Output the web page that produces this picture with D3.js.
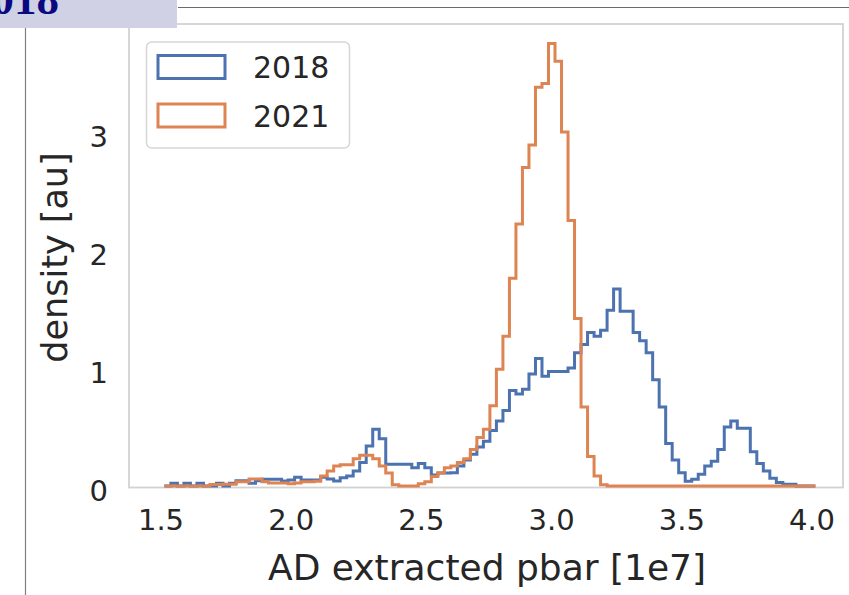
<!DOCTYPE html>
<html>
<head>
<meta charset="utf-8">
<script src="https://cdn.jsdelivr.net/npm/d3@7"></script>
<style>
  body { margin: 0; background: #fff; }
  svg { display: block; }
</style>
</head>
<body>
<script>
// histogram: 100 bins of 0.025 (x in units of 1e7)
var binStart = 1.515, binWidth = 0.025;

var series = ["2018", "2021"];
var colors = ["#4c72b0", "#dd8452"];

var density2018 = [
  0, 0.023, 0, 0.023, 0, 0.023, 0, 0, 0.023, 0,
  0.023, 0.045, 0.045, 0.023, 0.045, 0.057, 0.057, 0.057, 0.042, 0.05,
  0.074, 0.05, 0.05, 0.05, 0.074, 0.06, 0.042, 0.07, 0.085, 0.127,
  0.2, 0.34, 0.48, 0.4, 0.184, 0.184, 0.184, 0.184, 0.155, 0.19,
  0.155, 0.093, 0.11, 0.11, 0.113, 0.17, 0.22, 0.27, 0.33, 0.38,
  0.47, 0.55, 0.64, 0.81, 0.78, 0.82, 0.95, 1.08, 0.93, 0.97,
  0.97, 0.97, 1.0, 1.13, 1.2, 1.3, 1.27, 1.32, 1.49, 1.67,
  1.48, 1.48, 1.3, 1.23, 1.13, 0.9, 0.67, 0.36, 0.22, 0.113,
  0.04, 0.057, 0.1, 0.17, 0.21, 0.31, 0.5, 0.55, 0.49, 0.49,
  0.29, 0.19, 0.127, 0.065, 0.03, 0.014, 0.014, 0, 0, 0
];

var density2021 = [
  0, 0, 0, 0, 0, 0, 0, 0.012, 0.012, 0.015,
  0.015, 0.035, 0.035, 0.06, 0.06, 0.035, 0.025, 0.025, 0.025, 0.02,
  0.025, 0.035, 0.035, 0.04, 0.085, 0.127, 0.17, 0.18, 0.18, 0.23,
  0.26, 0.26, 0.23, 0.17, 0.11, 0.01, 0, 0, 0, 0.02,
  0.037, 0.08, 0.11, 0.155, 0.17, 0.2, 0.23, 0.31, 0.41, 0.48,
  0.68, 0.99, 1.27, 1.76, 2.22, 2.7, 2.89, 3.38, 3.41, 3.75,
  3.6, 3.0, 2.25, 1.42, 0.67, 0.25, 0.085, 0.01, 0, 0,
  0, 0, 0, 0, 0, 0, 0, 0, 0, 0,
  0, 0, 0, 0, 0, 0, 0, 0, 0, 0,
  0, 0, 0, 0, 0, 0, 0, 0, 0, 0
];

var xTicks = [1.5, 2.0, 2.5, 3.0, 3.5, 4.0];
var yTicks = [0, 1, 2, 3];

var width = 849, height = 595;
var frame = {left: 129, right: 843, top: 24, bottom: 487.5};
var font = "DejaVu Sans, sans-serif", ink = "#262626";

var svg = d3.select("body").append("svg")
    .attr("width", width).attr("height", height);

var x = d3.scaleLinear().domain([1.5, 4.0]).range([160.5, 811.5]);
var y = d3.scaleLinear().domain([0, 3]).range([486, 132]);

// frame (light grey spines)
svg.append("rect")
    .attr("x", frame.left).attr("y", frame.top)
    .attr("width", frame.right - frame.left)
    .attr("height", frame.bottom - frame.top)
    .attr("fill", "none")
    .attr("stroke", "#d2d2d2")
    .attr("stroke-width", 1.8);

// step outlines
function stepPoints(vals) {
  var pts = [[binStart, 0]];
  vals.forEach(function(v, i) { pts.push([binStart + i * binWidth, v]); });
  pts.push([binStart + vals.length * binWidth, 0]);
  return pts;
}

var line = d3.line()
    .x(function(d) { return x(d[0]); })
    .y(function(d) { return y(d[1]); })
    .curve(d3.curveStepAfter);

svg.selectAll("path.hist")
  .data([density2018, density2021])
  .enter().append("path")
    .attr("class", "hist")
    .attr("d", function(d) { return line(stepPoints(d)); })
    .attr("fill", "none")
    .attr("stroke", function(d, i) { return colors[i]; })
    .attr("stroke-width", 3)
    .attr("stroke-linejoin", "miter");

// axes
var xAxis = d3.axisBottom(x).tickValues(xTicks).tickSize(0).tickPadding(22)
    .tickFormat(d3.format(".1f"));
var gx = svg.append("g")
    .attr("transform", "translate(0," + frame.bottom + ")")
    .call(xAxis);
gx.select(".domain").remove();
gx.selectAll("text")
    .style("font-size", "29px")
    .style("font-family", font)
    .style("fill", ink);

var yAxis = d3.axisLeft(y).tickValues(yTicks).tickSize(0).tickPadding(21)
    .tickFormat(d3.format("d"));
var gy = svg.append("g")
    .attr("transform", "translate(" + frame.left + ",0)")
    .call(yAxis);
gy.select(".domain").remove();
gy.selectAll("text")
    .attr("dy", "0.5em")
    .style("font-size", "29px")
    .style("font-family", font)
    .style("fill", ink);

// axis labels
svg.append("text")
    .attr("x", 487).attr("y", 580)
    .attr("text-anchor", "middle")
    .style("font-size", "36px")
    .style("font-family", font)
    .style("fill", ink)
    .text("AD extracted pbar [1e7]");

svg.append("text")
    .attr("transform", "translate(66.5,257.5) rotate(-90)")
    .attr("text-anchor", "middle")
    .style("font-size", "35px")
    .style("font-family", font)
    .style("fill", ink)
    .text("density [au]");

// legend
var legend = svg.append("g");
legend.append("rect")
    .attr("x", 146.5).attr("y", 42)
    .attr("width", 203).attr("height", 106)
    .attr("rx", 5)
    .attr("fill", "#fff")
    .attr("stroke", "#d6d6d6")
    .attr("stroke-width", 1.5);

var items = legend.selectAll("g.item")
  .data(series)
  .enter().append("g")
    .attr("class", "item")
    .attr("transform", function(d, i) { return "translate(0," + (i * 48.5) + ")"; });

items.append("rect")
    .attr("x", 158).attr("y", 55.5)
    .attr("width", 67).attr("height", 23)
    .attr("fill", "none")
    .attr("stroke", function(d, i) { return colors[i]; })
    .attr("stroke-width", 3);

items.append("text")
    .attr("x", 253).attr("y", 78)
    .style("font-size", "30px")
    .style("font-family", font)
    .style("fill", ink)
    .text(function(d) { return d; });

// page decorations around the figure
svg.append("line")
    .attr("x1", 178).attr("x2", width)
    .attr("y1", 7.5).attr("y2", 7.5)
    .attr("stroke", "#6b6b6b").attr("stroke-width", 1.2);

svg.append("line")
    .attr("x1", 25.5).attr("x2", 25.5)
    .attr("y1", 28).attr("y2", height)
    .attr("stroke", "#808080").attr("stroke-width", 1.2);

svg.append("rect")
    .attr("x", 0).attr("y", 0)
    .attr("width", 177).attr("height", 28)
    .attr("fill", "#d1d1e5");

svg.append("text")
    .attr("x", -31).attr("y", 13.5)
    .style("font-family", "Liberation Serif, serif")
    .style("font-weight", "bold")
    .style("font-size", "45px")
    .style("fill", "#0a0a80")
    .text("2018");
</script>
</body>
</html>
